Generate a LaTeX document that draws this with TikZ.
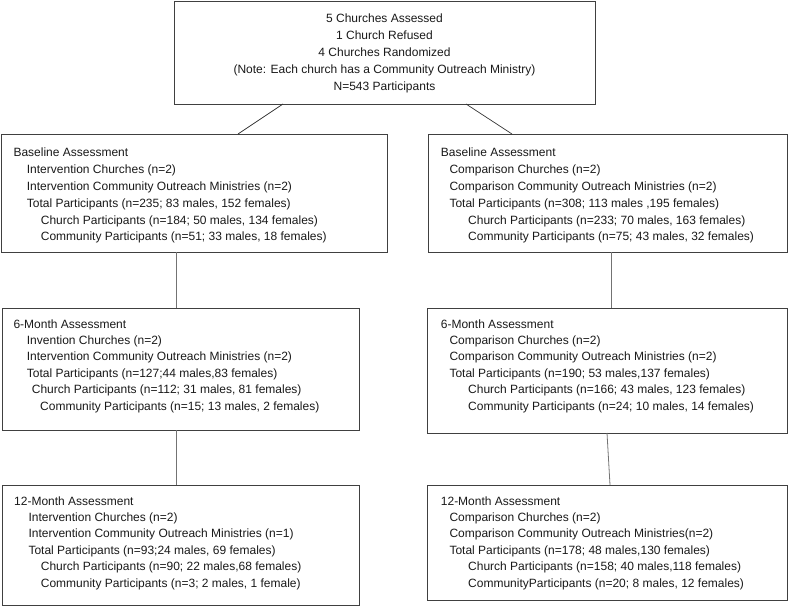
\documentclass[tikz,border=0pt]{standalone}
\usepackage{fontspec}
\setmainfont{Liberation Sans}
\usetikzlibrary{positioning}

\tikzset{
  box/.style={draw=black!75, line width=0.9pt, rectangle, inner sep=0pt, outer sep=0pt, anchor=north west},
  boxtext/.style={anchor=north west, inner sep=0pt, align=left, text=black!90, font=\fontsize{12}{16.4}\selectfont},
  widetext/.style={boxtext, font=\fontsize{12}{16.8}\selectfont},
  toptext/.style={anchor=north, inner sep=0pt, align=center, text=black!90, font=\fontsize{12}{17}\selectfont},
  link/.style={draw=black!55, line width=0.8pt},
  slant/.style={draw=black!80, line width=0.7pt},
}
\newcommand{\ind}[1]{\hspace*{#1pt}}

\begin{document}
\begin{tikzpicture}[x=1pt,y=-1pt]
\useasboundingbox (0,0) rectangle (789,607);

% boxes
\node[box, minimum width=421pt, minimum height=103pt] (top) at (174,1) {};
\node[box, minimum width=386pt, minimum height=118pt] (lb) at (1,134) {};
\node[box, minimum width=359pt, minimum height=118pt] (rb) at (428,134) {};
\node[box, minimum width=357pt, minimum height=122pt] (l6) at (2,308) {};
\node[box, minimum width=360pt, minimum height=125pt] (r6) at (427,308) {};
\node[box, minimum width=357pt, minimum height=120pt] (l12) at (2,485) {};
\node[box, minimum width=360pt, minimum height=115pt] (r12) at (427,485) {};

% texts
\node[toptext] (topt) at ([shift={(0,9)}]top.north) {\strut 5 Churches Assessed\\
  1 Church Refused\\
  4 Churches Randomized\\
  (Note: Each church has a Community Outreach Ministry)\\
  N=543 Participants};

\node[widetext] (lbt) at ([shift={(12.3,11)}]lb.north west) {\strut Baseline Assessment\\
  \ind{13.4}Intervention Churches (n=2)\\
  \ind{13.4}Intervention Community Outreach Ministries (n=2)\\
  \ind{13.4}Total Participants (n=235; 83 males, 152 females)\\
  \ind{27.4}Church Participants (n=184; 50 males, 134 females)\\
  \ind{27.4}Community Participants (n=51; 33 males, 18 females)};

\node[widetext] (rbt) at ([shift={(12.7,11)}]rb.north west) {\strut Baseline Assessment\\
  \ind{8.6}Comparison Churches (n=2)\\
  \ind{8.6}Comparison Community Outreach Ministries (n=2)\\
  \ind{8.6}Total Participants (n=308; 113 males ,195 females)\\
  \ind{27.3}Church Participants (n=233; 70 males, 163 females)\\
  \ind{27.3}Community Participants (n=75; 43 males, 32 females)};

\node[boxtext] (l6t) at ([shift={(11.3,8.5)}]l6.north west) {\strut 6-Month Assessment\\
  \ind{13.4}Invention Churches (n=2)\\
  \ind{13.4}Intervention Community Outreach Ministries (n=2)\\
  \ind{13.4}Total Participants (n=127;44 males,83 females)\\
  \ind{18.4}Church Participants (n=112; 31 males, 81 females)\\
  \ind{26.7}Community Participants (n=15; 13 males, 2 females)};

\node[boxtext] (r6t) at ([shift={(13.7,8.5)}]r6.north west) {\strut 6-Month Assessment\\
  \ind{8.6}Comparison Churches (n=2)\\
  \ind{8.6}Comparison Community Outreach Ministries (n=2)\\
  \ind{8.6}Total Participants (n=190; 53 males,137 females)\\
  \ind{27.3}Church Participants (n=166; 43 males, 123 females)\\
  \ind{27.3}Community Participants (n=24; 10 males, 14 females)};

\node[boxtext] (l12t) at ([shift={(12,8.5)}]l12.north west) {\strut 12-Month Assessment\\
  \ind{14.3}Intervention Churches (n=2)\\
  \ind{14.3}Intervention Community Outreach Ministries (n=1)\\
  \ind{14.3}Total Participants (n=93;24 males, 69 females)\\
  \ind{26.7}Church Participants (n=90; 22 males,68 females)\\
  \ind{26.7}Community Participants (n=3; 2 males, 1 female)};

\node[boxtext] (r12t) at ([shift={(13.7,8.5)}]r12.north west) {\strut 12-Month Assessment\\
  \ind{8.6}Comparison Churches (n=2)\\
  \ind{8.6}Comparison Community Outreach Ministries(n=2)\\
  \ind{8.6}Total Participants (n=178; 48 males,130 females)\\
  \ind{27.3}Church Participants (n=158; 40 males,118 females)\\
  \ind{27.3}CommunityParticipants (n=20; 8 males, 12 females)};

% connectors
\draw[slant] ([xshift=109pt]top.south west) -- ([xshift=237pt]lb.north west);
\draw[slant] ([xshift=292pt]top.south west) -- ([xshift=84pt]rb.north west);
\draw[link] ([xshift=175pt]lb.south west) -- ([xshift=174pt]l6.north west);
\draw[link] ([xshift=174pt]l6.south west) -- ([xshift=174pt]l12.north west);
\draw[link] ([xshift=183pt]rb.south west) -- ([xshift=184pt]r6.north west);
\draw[link] ([xshift=180pt]r6.south west) -- ([xshift=183pt]r12.north west);
\end{tikzpicture}
\end{document}
